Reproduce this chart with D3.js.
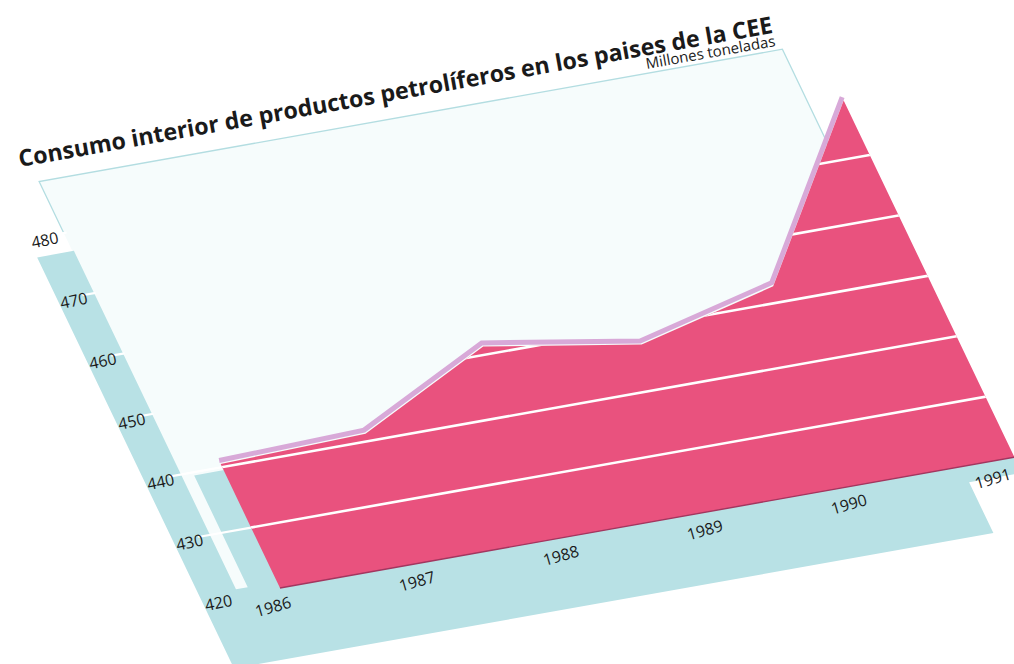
<!DOCTYPE html>
<html>
<head>
<meta charset="utf-8">
<script src="https://cdn.jsdelivr.net/npm/d3@7"></script>
<style>
  html, body { margin: 0; padding: 0; background: #ffffff; }
  svg { display: block; }
  text { font-family: "Open Sans", "Noto Sans", sans-serif; fill: #1a1a1a; }
</style>
</head>
<body>
<svg id="chart" width="1014" height="664"></svg>
<script>
// Consumo interior de productos petrolíferos, países de la CEE (millones de toneladas)
const years = [1986, 1987, 1988, 1989, 1990, 1991];
const consumo = [440.5, 441.2, 451.3, 447.3, 452.6, 479];
const yTicks = [420, 430, 440, 450, 460, 470, 480];
const gridTicks = [430, 440, 450, 460, 470];
const yearLabels = ["1986", "1987", "1988", "1989", "1990", "1991"];
const titleText = "Consumo interior de productos petrolíferos en los paises de la CEE";
const unitText = "Millones toneladas";

const W = 1014, H = 664;
const svg = d3.select("#chart");

// Oblique drawing: the floor axis runs up-right, the value axis leans left.
const origin = [280, 588];
const floorAngle = -10.1 * Math.PI / 180;
const ux = [Math.cos(floorAngle), Math.sin(floorAngle)];
const uy = [-0.432, -0.902];

const x = d3.scaleLinear().domain([1986, 1991]).range([0, 746]);
const y = d3.scaleLinear().domain([420, 480]).range([0, 402]);
// year captions sit on the floor band, slightly tighter than the data spacing
const xLabel = d3.scaleLinear().domain([1986, 1991]).range([x(1985.9), x(1990.8)]);

function projectPx(a, b) {
  return [origin[0] + a * ux[0] + b * uy[0], origin[1] + a * ux[1] + b * uy[1]];
}
function project(yr, v) { return projectPx(x(yr), y(v)); }
const poly = pts => "M" + pts.map(p => project(p[0], p[1]).join(",")).join("L") + "Z";

const colors = {
  wall: "#f6fcfc",
  wallEdge: "#b3dde1",
  band: "#b8e1e5",
  area: "#e9527e",
  areaEdge: "#a2365f",
  rim: "#d8a9d8",
  grid: "#ffffff"
};

// back wall
const wallL = 1985.71, wallR = 1990.77, wallTop = 488.5;
svg.append("path")
  .attr("d", poly([[wallL, 420], [wallL, wallTop], [wallR, wallTop], [wallR, 420]]))
  .attr("fill", colors.wall);
svg.append("path")
  .attr("d", "M" + [[wallL, 480], [wallL, wallTop], [wallR, wallTop], [wallR, 465]]
    .map(p => project(p[0], p[1]).join(",")).join("L"))
  .attr("fill", "none")
  .attr("stroke", colors.wallEdge)
  .attr("stroke-width", 1.3);

// floor band and value-axis band
const bandL = 1985.47, bandIn = 1985.72, stripL = 1985.8;
svg.append("path")
  .attr("d", poly([
    [bandL, 477], [bandIn, 477], [bandIn, 421], [stripL, 421], [stripL, 439.5],
    [1986.05, 439.5], [1986.05, 420], [1991.4, 420], [1991.4, 417.4],
    [1990.64, 417.4], [1990.64, 409], [bandL, 409]
  ]))
  .attr("fill", colors.band);

// white tick notches on the value band
svg.append("g").selectAll("line")
  .data(gridTicks.concat([480]))
  .join("line")
  .each(function (t) {
    const p0 = project(1985.64, t), p1 = project(t <= 440 ? 1986 : bandIn + 0.01, t);
    d3.select(this).attr("x1", p0[0]).attr("y1", p0[1]).attr("x2", p1[0]).attr("y2", p1[1]);
  })
  .attr("stroke", colors.grid)
  .attr("stroke-width", 2.2);

// data series
const series = years.map((yr, i) => [yr, consumo[i]]);
const topLine = d3.line().x(d => project(d[0], d[1])[0]).y(d => project(d[0], d[1])[1]);
const areaPts = [[years[0], 420]].concat(series).concat([[years[years.length - 1], 420]]);

// raised rim along the top of the area
svg.append("path")
  .attr("d", topLine(series))
  .attr("transform", "translate(-1.5,-3.6)")
  .attr("fill", "none")
  .attr("stroke", colors.rim)
  .attr("stroke-width", 5)
  .attr("stroke-linejoin", "miter");

svg.append("defs").append("clipPath").attr("id", "areaClip")
  .append("path").attr("d", topLine(areaPts) + "Z");

svg.append("path")
  .attr("d", topLine(areaPts) + "Z")
  .attr("fill", colors.area);

// gridlines seen inside the area
svg.append("g").attr("clip-path", "url(#areaClip)")
  .selectAll("line")
  .data(gridTicks)
  .join("line")
  .each(function (t) {
    const p0 = project(1985.9, t), p1 = project(1991.2, t);
    d3.select(this).attr("x1", p0[0]).attr("y1", p0[1]).attr("x2", p1[0]).attr("y2", p1[1]);
  })
  .attr("stroke", colors.grid)
  .attr("stroke-width", 2.6);

// darker floor edge of the area
{
  const p0 = project(1986, 420), p1 = project(1991, 420);
  svg.append("line")
    .attr("x1", p0[0]).attr("y1", p0[1]).attr("x2", p1[0]).attr("y2", p1[1])
    .attr("stroke", colors.areaEdge).attr("stroke-width", 1.4);
}

// value labels
svg.append("g").selectAll("text")
  .data(yTicks)
  .join("text")
  .attr("transform", t => {
    const p = project(1985.57, t - 0.6);
    return `translate(${p[0]},${p[1]}) rotate(-12)`;
  })
  .attr("text-anchor", "middle")
  .attr("dy", "0.35em")
  .attr("font-size", 16)
  .text(t => t);

// year labels
svg.append("g").selectAll("text")
  .data(years)
  .join("text")
  .attr("transform", yr => {
    const p = projectPx(xLabel(yr), y(417.3));
    return `translate(${p[0]},${p[1]}) rotate(-16)`;
  })
  .attr("text-anchor", "middle")
  .attr("dy", "0.35em")
  .attr("font-size", 16)
  .text((yr, i) => yearLabels[i]);

// title and unit, set along the floor direction
const deg = floorAngle * 180 / Math.PI;
const title = svg.append("text")
  .attr("transform", `translate(20,167) rotate(${deg})`)
  .attr("font-size", 24)
  .attr("font-weight", 700)
  .text(titleText);
const targetLen = 766;
const len = title.node().getComputedTextLength();
title.attr("font-size", 24 * targetLen / len);

svg.append("text")
  .attr("transform", `translate(776,46) rotate(${deg})`)
  .attr("text-anchor", "end")
  .attr("font-size", 15)
  .text(unitText);
</script>
</body>
</html>
